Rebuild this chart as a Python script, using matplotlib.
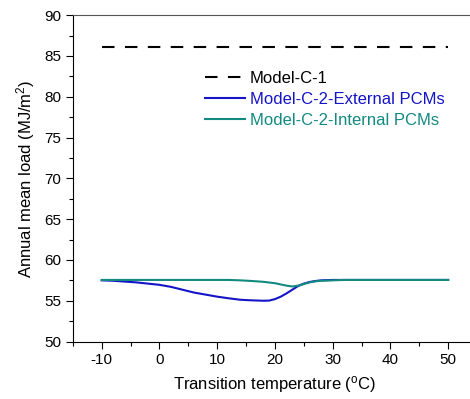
import matplotlib
matplotlib.use("Agg")
import matplotlib.pyplot as plt
from matplotlib.ticker import MultipleLocator

plt.rcParams['font.family'] = ['Liberation Sans', 'DejaVu Sans']
plt.rcParams['axes.unicode_minus'] = False

# Transition temperature (°C) and annual mean load (MJ/m2)
ref_temp = [-10, 50]
ref_load = [86.1, 86.1]

ext_temp = [-10, -8, -6, -4, -2, 0, 2, 4, 6, 8, 10, 12, 14, 16, 18, 19, 20,
            21, 22, 23, 24, 25, 26, 27, 28, 30, 35, 40, 45, 50]
ext_load = [57.5, 57.45, 57.35, 57.25, 57.1, 56.95, 56.7, 56.35, 56.0, 55.75,
            55.5, 55.3, 55.12, 55.05, 55.0, 55.02, 55.2, 55.5, 55.9, 56.35,
            56.8, 57.1, 57.3, 57.42, 57.5, 57.55, 57.55, 57.55, 57.55, 57.55]

int_temp = [-10, -5, 0, 5, 10, 12, 14, 16, 18, 20, 21, 22, 23, 24, 25, 26,
            27, 28, 30, 32, 35, 40, 45, 50]
int_load = [57.55, 57.55, 57.55, 57.55, 57.55, 57.55, 57.5, 57.42, 57.32,
            57.15, 57.0, 56.85, 56.75, 56.85, 57.05, 57.25, 57.38, 57.45,
            57.5, 57.55, 57.55, 57.55, 57.55, 57.55]

fig = plt.figure(figsize=(4.70, 3.99), dpi=100)
ax = fig.add_axes([0.155, 0.144, 0.86, 0.818])

ax.plot(ref_temp, ref_load, color='black', lw=1.5, dashes=(6, 5), label='Model-C-1')
ax.plot(ext_temp, ext_load, color='#1414c8', lw=1.5, label='Model-C-2-External PCMs')
ax.plot(int_temp, int_load, color='#138a80', lw=1.5, label='Model-C-2-Internal PCMs')

ax.set_xlim(-15, 55)
ax.set_ylim(50, 90)
ax.xaxis.set_major_locator(MultipleLocator(10))
ax.xaxis.set_minor_locator(MultipleLocator(5))
ax.yaxis.set_major_locator(MultipleLocator(5))
ax.yaxis.set_minor_locator(MultipleLocator(2.5))
ax.tick_params(which='both', direction='out', top=False, right=False, labelsize=11)
ax.tick_params(which='major', length=5, width=0.8)
ax.tick_params(which='minor', length=3, width=0.8)
ax.spines['top'].set_color('#555555')

ax.set_xlabel('Transition temperature ($\\mathregular{^{o}}$C)', fontsize=12, labelpad=5)
ax.set_ylabel('Annual mean load (MJ/m$\\mathregular{^{2}}$)', fontsize=12, labelpad=5)

ax.legend(loc='upper left', bbox_to_anchor=(0.29, 0.875), frameon=False,
          fontsize=12, handlelength=2.4, handletextpad=0.3,
          labelspacing=0.35, labelcolor='linecolor')

fig.savefig('out.png', dpi=100)
